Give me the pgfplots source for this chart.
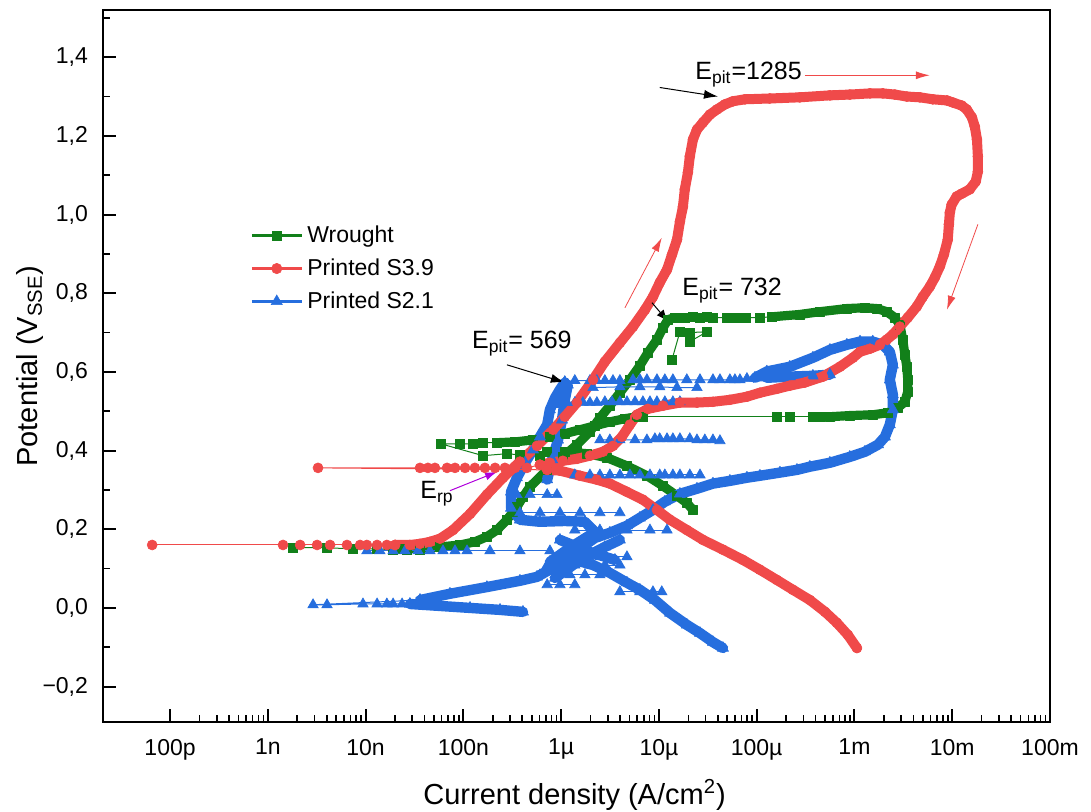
\documentclass[border=0pt]{standalone}
\usepackage{pgfplots}
\pgfplotsset{compat=1.18}
\usepackage{fontspec}
\setmainfont{Liberation Sans}
\usetikzlibrary{arrows.meta}
\definecolor{cgreen}{RGB}{18,128,26}
\definecolor{cred}{RGB}{240,74,74}
\definecolor{cblue}{RGB}{38,110,222}
\definecolor{cmag}{RGB}{175,0,220}
\pgfplotsset{
  gS/.style={cgreen, line width=0.5pt, mark=square*, mark size=2.2pt, mark options={solid, line width=0.3pt}, forget plot},
  gD/.style={cgreen, line width=4.6pt, line join=round, line cap=round, mark=square*, mark size=2.2pt, mark options={solid, line width=0.3pt}, forget plot},
  rS/.style={cred, line width=0.5pt, mark=*, mark size=2.5pt, mark options={solid, line width=0.3pt}, forget plot},
  rD/.style={cred, line width=5pt, line join=round, line cap=round, mark=*, mark size=2.5pt, mark options={solid, line width=0.3pt}, forget plot},
  bS/.style={cblue, line width=0.5pt, mark=triangle*, mark size=3pt, mark options={solid, line width=0.3pt}, forget plot},
  bD/.style={cblue, line width=5.2pt, line join=round, line cap=round, mark=triangle*, mark size=3.2pt, mark options={solid, line width=0.3pt}, forget plot},
}
\begin{document}
\begin{tikzpicture}
\begin{axis}[
  scale only axis,
  width=473.5pt, height=356pt,
  xmode=log,
  xmin=2.06e-11, xmax=0.1,
  ymin=-0.29, ymax=1.52,
  clip=false,
  axis line style={line width=1.3pt},
  major tick style={line width=1pt, black},
  minor tick style={line width=0.8pt, black},
  major tick length=6.5pt, minor tick length=3.5pt,
  tick pos=left,
  tick align=inside,
  xtick={1e-10,1e-9,1e-8,1e-7,1e-6,1e-5,1e-4,1e-3,1e-2,1e-1},
  xticklabels={100p,1n,10n,100n,1µ,10µ,100µ,1m,10m,100m},
  ytick={-0.2,0,0.2,0.4,0.6,0.8,1.0,1.2,1.4},
  yticklabels={{−0,2},{0,0},{0,2},{0,4},{0,6},{0,8},{1,0},{1,2},{1,4}},
  minor ytick={-0.1,0.1,0.3,0.5,0.7,0.9,1.1,1.3,1.5},
  ticklabel style={font=\fontsize{11.5}{13}\selectfont},
  xticklabel style={yshift=-5pt},
  yticklabel style={xshift=-4pt},
  xlabel={Current density (A/cm\textsuperscript{2})},
  ylabel={Potential (V\textsubscript{SSE})},
  label style={font=\fontsize{14.5}{16}\selectfont},
  xlabel style={at={(axis description cs:0.498,-0.1025)}, anchor=center},
  ylabel style={at={(axis description cs:-0.077,0.5)}, anchor=center},
  legend style={draw=none, fill=none, at={(axis description cs:0.155,0.703)}, anchor=north west, font=\fontsize{11.5}{13}\selectfont, row sep=2.6pt, inner sep=0pt},
  legend cell align=left,
  legend image code/.code={\draw[#1, mark repeat=2, mark phase=2] plot coordinates {(0pt,0pt) (12.5pt,0pt) (25pt,0pt)};},
]
\addlegendimage{cgreen, line width=1.6pt, mark=square*, mark size=2.4pt, mark options={solid, line width=0.3pt}}
\addlegendentry{Wrought}
\addlegendimage{cred, line width=1.6pt, mark=*, mark size=2.6pt, mark options={solid, line width=0.3pt}}
\addlegendentry{Printed S3.9}
\addlegendimage{cblue, line width=1.6pt, mark=triangle*, mark size=3.2pt, mark options={solid, line width=0.3pt}}
\addlegendentry{Printed S2.1}

% ---------------- Wrought (green) ----------------
\addplot[gS] coordinates {(1.81e-9,0.153) (4.03e-9,0.153) (7.45e-9,0.150) (1.31e-8,0.150) (1.91e-8,0.148) (2.65e-8,0.148) (3.60e-8,0.148)};
\addplot[gD] coordinates {(2.25e-8,0.150) (3.60e-8,0.153) (5.77e-8,0.155) (9.25e-8,0.160) (1.31e-7,0.168) (1.74e-7,0.181) (2.21e-7,0.198) (2.79e-7,0.224) (3.22e-7,0.244) (3.53e-7,0.257) (4.07e-7,0.282) (4.80e-7,0.308) (7.16e-7,0.351) (1.04e-6,0.384) (1.45e-6,0.415) (1.97e-6,0.448) (2.49e-6,0.483) (3.15e-6,0.514) (3.99e-6,0.547) (5.05e-6,0.580) (6.39e-6,0.616) (7.72e-6,0.649) (9.55e-6,0.682) (1.10e-5,0.712) (1.24e-5,0.733) (1.46e-5,0.738)};
\addplot[gS] coordinates {(1.46e-5,0.738) (1.84e-5,0.738) (2.23e-5,0.740) (2.63e-5,0.738) (3.10e-5,0.740) (3.57e-5,0.738) (4.96e-5,0.738) (5.72e-5,0.738) (6.74e-5,0.738) (7.78e-5,0.738) (1.08e-4,0.738) (1.43e-4,0.740)};
\addplot[gD] coordinates {(1.43e-4,0.740) (2.76e-4,0.746) (4.43e-4,0.753) (8.37e-4,0.761) (1.28e-3,0.763) (1.69e-3,0.761) (2.14e-3,0.753) (2.59e-3,0.738) (2.91e-3,0.720) (3.12e-3,0.682) (3.28e-3,0.644) (3.43e-3,0.613) (3.51e-3,0.580) (3.51e-3,0.550) (3.28e-3,0.524) (2.78e-3,0.509) (2.19e-3,0.496) (1.54e-3,0.491) (8.97e-4,0.489) (5.61e-4,0.486) (4.43e-4,0.486)};
\addplot[gS] coordinates {(4.43e-4,0.486) (3.76e-4,0.486) (2.18e-4,0.486) (1.61e-4,0.486) (6.86e-6,0.486) (5.95e-6,0.486)};
\addplot[gD] coordinates {(5.95e-6,0.486) (4.49e-6,0.481) (3.15e-6,0.473) (2.22e-6,0.463) (1.56e-6,0.453) (1.09e-6,0.443) (7.68e-7,0.435) (5.15e-7,0.427) (3.37e-7,0.422) (2.21e-7,0.420)};
\addplot[gS] coordinates {(2.21e-7,0.420) (1.59e-7,0.420) (1.25e-7,0.417) (9.25e-8,0.417) (5.91e-8,0.417) (1.59e-7,0.387) (2.79e-7,0.392) (3.79e-7,0.389) (6.07e-7,0.387) (7.20e-7,0.397)};
\addplot[gD] coordinates {(7.20e-7,0.397) (1.09e-6,0.397) (1.84e-6,0.392) (2.94e-6,0.382) (4.71e-6,0.361) (7.54e-6,0.336) (1.10e-5,0.310) (1.53e-5,0.285) (1.93e-5,0.267) (2.23e-5,0.249)};
\addplot[gS] coordinates {(1.36e-5,0.631) (1.64e-5,0.702) (2.07e-5,0.700) (3.10e-5,0.702) (2.07e-5,0.677)};

% ---------------- Printed S2.1 (blue) ----------------
\addplot[bD] coordinates {(4.07e-7,-0.010) (2.37e-7,-0.005) (1.17e-7,0.000) (5.77e-8,0.005) (2.84e-8,0.010)};
\addplot[bS] coordinates {(2.84e-8,0.010) (2.36e-8,0.010) (1.91e-8,0.010) (1.65e-8,0.010) (1.31e-8,0.010) (9.4e-9,0.010) (4.03e-9,0.008) (2.90e-9,0.008) (3.60e-8,0.020)};
\addplot[bD] coordinates {(3.60e-8,0.020) (7.29e-8,0.036) (1.74e-7,0.053) (3.79e-7,0.069) (5.66e-7,0.079) (8.26e-7,0.102) (1.15e-6,0.122) (1.49e-6,0.142) (1.75e-6,0.160)};
\addplot[bD] coordinates {(1.75e-6,0.160) (2.22e-6,0.193) (1.75e-6,0.219) (1.09e-6,0.221) (6.07e-7,0.219) (3.79e-7,0.224) (3.07e-7,0.254) (3.07e-7,0.295) (3.53e-7,0.331) (4.27e-7,0.369) (5.15e-7,0.402) (6.07e-7,0.435) (7.20e-7,0.466) (7.68e-7,0.504) (8.66e-7,0.534) (9.72e-7,0.555) (1.09e-6,0.573)};
\addplot[bD] coordinates {(7.20e-7,0.326) (8.08e-7,0.377) (9.29e-7,0.427) (1.02e-6,0.478) (1.09e-6,0.529) (1.17e-6,0.567)};
\addplot[bS] coordinates {(1.09e-6,0.575) (1.38e-6,0.578) (1.97e-6,0.578) (2.32e-6,0.578) (2.80e-6,0.578) (3.39e-6,0.578) (3.99e-6,0.578) (5.43e-6,0.580) (6.39e-6,0.580) (7.54e-6,0.580) (9.55e-6,0.580) (1.15e-5,0.580) (1.39e-5,0.580) (1.93e-5,0.580) (2.63e-5,0.580) (3.57e-5,0.580) (4.21e-5,0.580) (5.32e-5,0.580) (5.99e-5,0.580) (6.74e-5,0.580) (7.95e-5,0.583) (9.61e-5,0.585)};
\addplot[bD] coordinates {(9.61e-5,0.585) (1.27e-4,0.601) (2.18e-4,0.613) (3.76e-4,0.636) (5.61e-4,0.656) (8.37e-4,0.669) (1.14e-3,0.677) (1.54e-3,0.677) (1.95e-3,0.669) (2.30e-3,0.651) (2.47e-3,0.618) (2.30e-3,0.580) (2.47e-3,0.542) (2.47e-3,0.504) (2.30e-3,0.466) (2.05e-3,0.435) (1.74e-3,0.415) (1.28e-3,0.397) (8.97e-4,0.384) (5.61e-4,0.369) (3.50e-4,0.359) (2.58e-4,0.351) (1.73e-4,0.344) (1.08e-4,0.336) (7.95e-5,0.331) (5.32e-5,0.323) (3.57e-5,0.316) (2.45e-5,0.303) (1.64e-5,0.290) (1.15e-5,0.270) (8.69e-6,0.249) (6.39e-6,0.229) (4.71e-6,0.209) (3.15e-6,0.191) (2.22e-6,0.178) (1.75e-6,0.160)};
\addplot[bD] coordinates {(1.27e-4,0.585) (2.18e-4,0.588) (3.76e-4,0.590) (5.61e-4,0.593)};
\addplot[bS] coordinates {(9.72e-7,0.517) (1.15e-6,0.522) (1.38e-6,0.522) (1.67e-6,0.522) (1.97e-6,0.522) (2.32e-6,0.522) (2.80e-6,0.524) (3.31e-6,0.524) (3.99e-6,0.524) (4.71e-6,0.524) (5.69e-6,0.524) (6.86e-6,0.524) (8.10e-6,0.524) (9.55e-6,0.524) (1.15e-5,0.524) (1.39e-5,0.524) (1.64e-5,0.524)};
\addplot[bS] coordinates {(2.12e-6,0.560) (3.99e-6,0.562) (6.39e-6,0.562) (1.02e-5,0.562) (1.53e-5,0.560) (2.45e-5,0.560)};
\addplot[bS] coordinates {(2.49e-6,0.427) (3.15e-6,0.427) (3.99e-6,0.427) (5.69e-6,0.427) (7.54e-6,0.427) (9.10e-6,0.430) (1.02e-5,0.430) (1.21e-5,0.430) (1.39e-5,0.430) (1.64e-5,0.430) (2.07e-5,0.430) (2.45e-5,0.427) (2.95e-5,0.427) (3.57e-5,0.427) (4.21e-5,0.425)};
\addplot[bS] coordinates {(1.38e-6,0.338) (1.97e-6,0.338) (2.49e-6,0.338) (3.15e-6,0.338) (3.99e-6,0.338) (5.05e-6,0.338) (6.39e-6,0.338) (8.10e-6,0.338) (1.02e-5,0.338) (1.15e-5,0.338) (1.39e-5,0.338) (1.64e-5,0.338) (2.07e-5,0.338) (2.63e-5,0.338)};
\addplot[bS] coordinates {(3.79e-7,0.242) (6.07e-7,0.242) (9.72e-7,0.242) (1.56e-6,0.242) (2.49e-6,0.242) (3.99e-6,0.242)};
\addplot[bS] coordinates {(1.38e-6,0.198) (2.49e-6,0.198) (4.71e-6,0.198) (8.10e-6,0.198) (1.21e-5,0.198)};
\addplot[bS] coordinates {(1.03e-8,0.145) (1.40e-8,0.145) (1.91e-8,0.145) (2.53e-8,0.145) (3.43e-8,0.145) (4.55e-8,0.145) (6.19e-8,0.145) (8.21e-8,0.145) (1.09e-7,0.145) (1.87e-7,0.145) (3.79e-7,0.145) (7.68e-7,0.145)};
\addplot[bS] coordinates {(9.72e-7,0.130) (1.56e-6,0.130) (2.49e-6,0.130) (4.71e-6,0.130)};
\addplot[bS] coordinates {(7.20e-7,0.109) (9.72e-7,0.109) (1.38e-6,0.109) (1.97e-6,0.109) (2.80e-6,0.109) (3.99e-6,0.109)};
\addplot[bS] coordinates {(6.07e-7,0.084) (8.66e-7,0.084) (1.23e-6,0.084) (1.75e-6,0.084) (2.49e-6,0.084)};
\addplot[bS] coordinates {(7.20e-7,0.059) (9.72e-7,0.059) (1.38e-6,0.059)};
\addplot[bS] coordinates {(3.99e-6,0.041) (6.39e-6,0.041) (8.69e-6,0.041) (1.07e-5,0.041)};
\addplot[bS] coordinates {(3.53e-7,0.288) (4.80e-7,0.288) (7.20e-7,0.288) (9.07e-7,0.288)};
\addplot[bD] coordinates {(1.38e-6,0.122) (2.12e-6,0.109) (3.15e-6,0.089) (4.71e-6,0.064) (6.39e-6,0.046) (9.10e-6,0.020) (1.30e-5,-0.013) (1.93e-5,-0.043) (2.63e-5,-0.064) (3.57e-5,-0.087) (4.52e-5,-0.102)};
\addplot[bD] coordinates {(7.68e-7,0.117) (1.23e-6,0.153) (2.22e-6,0.193)};
\addplot[bD] coordinates {(8.66e-7,0.076) (1.56e-6,0.122) (2.80e-6,0.155) (3.99e-6,0.173)};
\addplot[bD] coordinates {(9.72e-7,0.173) (1.97e-6,0.142) (3.55e-6,0.122)};

% ---------------- Printed S3.9 (red) ----------------
\addplot[rS] coordinates {(6.56e-11,0.160) (1.43e-9,0.160) (2.14e-9,0.160) (3.19e-9,0.160) (4.33e-9,0.160) (6.45e-9,0.160) (8.78e-9,0.160) (1.03e-8,0.160) (1.31e-8,0.160) (1.65e-8,0.160) (2.0e-8,0.160)};
\addplot[rD] coordinates {(2.0e-8,0.160) (2.84e-8,0.160) (3.60e-8,0.163) (4.55e-8,0.168) (5.77e-8,0.176) (7.83e-8,0.198) (1.17e-7,0.239) (1.74e-7,0.288) (2.54e-7,0.331) (3.79e-7,0.372) (5.66e-7,0.412) (8.26e-7,0.453) (1.09e-6,0.486) (1.45e-6,0.522) (2.12e-6,0.580) (2.80e-6,0.626) (3.99e-6,0.674) (5.43e-6,0.715) (7.20e-6,0.758) (8.69e-6,0.791) (1.02e-5,0.827) (1.21e-5,0.860) (1.36e-5,0.898) (1.53e-5,0.936) (1.64e-5,0.982) (1.76e-5,1.020) (1.84e-5,1.064) (1.98e-5,1.107) (2.07e-5,1.148) (2.23e-5,1.191) (2.45e-5,1.216) (2.82e-5,1.234) (3.32e-5,1.254) (3.92e-5,1.267) (4.73e-5,1.280) (5.72e-5,1.288) (7.59e-5,1.293) (1.36e-4,1.295) (2.76e-4,1.298) (5.61e-4,1.303) (8.97e-4,1.305) (1.44e-3,1.308) (1.95e-3,1.308) (2.59e-3,1.305) (3.43e-3,1.300) (4.67e-3,1.298) (6.33e-3,1.293) (8.83e-3,1.290) (1.01e-2,1.285) (1.25e-2,1.277) (1.41e-2,1.267) (1.59e-2,1.247) (1.70e-2,1.224) (1.79e-2,1.191) (1.83e-2,1.148) (1.83e-2,1.109) (1.74e-2,1.084) (1.51e-2,1.064) (1.25e-2,1.053) (1.11e-2,1.046) (9.86e-3,1.025) (9.45e-3,1.005) (9.25e-3,0.975) (9.0e-3,0.936) (8.21e-3,0.898) (7.47e-3,0.868) (6.64e-3,0.840) (5.91e-3,0.817) (5.00e-3,0.791) (4.34e-3,0.766) (3.51e-3,0.738) (2.91e-3,0.715) (2.47e-3,0.695) (2.14e-3,0.682) (1.82e-3,0.669) (1.44e-3,0.659) (1.14e-3,0.651) (9.64e-4,0.636) (7.10e-4,0.613) (4.76e-4,0.588) (3.11e-4,0.573) (2.18e-4,0.565) (1.61e-4,0.557) (1.08e-4,0.547) (7.95e-5,0.537) (5.32e-5,0.529) (3.57e-5,0.524) (2.45e-5,0.522) (1.64e-5,0.522) (1.10e-5,0.514) (7.72e-6,0.506) (5.95e-6,0.491) (5.05e-6,0.466) (4.18e-6,0.435) (3.39e-6,0.412) (2.68e-6,0.397) (1.97e-6,0.387) (1.45e-6,0.379) (1.04e-6,0.374) (7.68e-7,0.369) (6.07e-7,0.364)};
\addplot[rS] coordinates {(6.07e-7,0.364) (4.47e-7,0.356) (3.37e-7,0.356) (2.66e-7,0.356) (2.11e-7,0.356) (1.66e-7,0.356) (1.31e-7,0.356) (1.04e-7,0.356) (8.21e-8,0.356) (6.81e-8,0.356) (5.12e-8,0.356) (4.34e-8,0.356) (3.60e-8,0.356) (3.26e-9,0.356) (7.20e-7,0.351)};
\addplot[rD] coordinates {(7.20e-7,0.351) (9.72e-7,0.349) (1.56e-6,0.336) (2.32e-6,0.326) (3.15e-6,0.316) (4.71e-6,0.295) (6.86e-6,0.275) (9.55e-6,0.249) (1.30e-5,0.224) (1.93e-5,0.198) (2.82e-5,0.173) (4.52e-5,0.148) (7.24e-5,0.122) (1.08e-4,0.097) (1.61e-4,0.071) (2.35e-4,0.046) (3.50e-4,0.020) (5.0e-4,-0.010) (6.61e-4,-0.038) (8.58e-4,-0.069) (1.06e-3,-0.102)};

% ---------------- annotations ----------------
\node[anchor=west, inner sep=0pt, font=\fontsize{12.5}{14}\selectfont] at (axis cs:2.34e-5,1.356) {E\textsubscript{pit}=1285};
\draw[-{Latex[length=7pt,width=4.5pt]}, line width=0.5pt] (axis cs:1.02e-5,1.323) -- (axis cs:4.02e-5,1.300);
\draw[cred, -{Latex[length=7pt,width=4pt]}, line width=0.6pt] (axis cs:3.11e-4,1.354) -- (axis cs:5.91e-3,1.354);
\draw[cred, -{Latex[length=7pt,width=4pt]}, line width=0.4pt] (axis cs:4.49e-6,0.763) -- (axis cs:1.07e-5,0.941);
\draw[cred, -{Latex[length=7pt,width=4pt]}, line width=0.4pt] (axis cs:1.83e-2,0.975) -- (axis cs:8.83e-3,0.758);
\node[anchor=west, inner sep=0pt, font=\fontsize{12.5}{14}\selectfont] at (axis cs:1.72e-5,0.807) {E\textsubscript{pit}= 732};
\draw[-{Latex[length=6pt,width=4.5pt]}, line width=0.5pt] (axis cs:8.48e-6,0.776) -- (axis cs:1.24e-5,0.728);
\node[anchor=west, inner sep=0pt, font=\fontsize{12.5}{14}\selectfont] at (axis cs:1.22e-7,0.672) {E\textsubscript{pit}= 569};
\draw[-{Latex[length=7pt,width=4.5pt]}, line width=0.5pt] (axis cs:2.79e-7,0.618) -- (axis cs:1.09e-6,0.573);
\node[anchor=west, inner sep=0pt, font=\fontsize{12.5}{14}\selectfont] at (axis cs:3.60e-8,0.290) {E\textsubscript{rp}};
\draw[cmag, -{Latex[length=6pt,width=4pt]}, line width=0.5pt] (axis cs:7.29e-8,0.298) -- (axis cs:2.21e-7,0.346);

\coordinate (SW) at (rel axis cs:0,0);
\coordinate (NE) at (rel axis cs:1,1);
\end{axis}
\pgfresetboundingbox
\path ([shift={(-51.5pt,-45pt)}]SW) rectangle ([shift={(20.5pt,5pt)}]NE);
\end{tikzpicture}
\end{document}
